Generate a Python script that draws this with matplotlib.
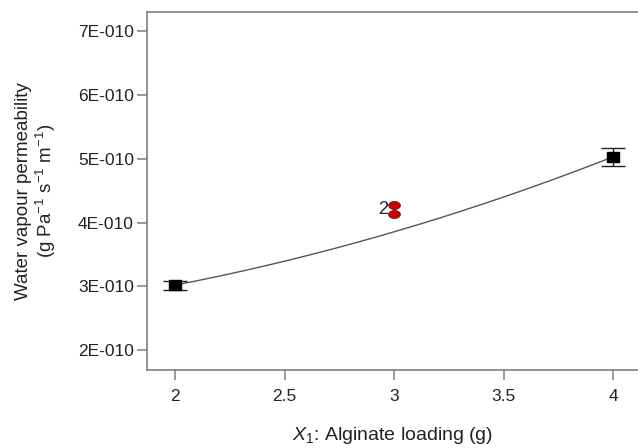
import numpy as np
import matplotlib
matplotlib.use("Agg")
import matplotlib.pyplot as plt
from matplotlib.ticker import FuncFormatter
from matplotlib.path import Path

plt.rcParams['font.family'] = ['Liberation Sans', 'DejaVu Sans']
plt.rcParams['mathtext.fontset'] = 'custom'
plt.rcParams['mathtext.rm'] = 'Liberation Sans'
plt.rcParams['mathtext.it'] = 'Liberation Sans:italic'

# design points (black squares with error bars)
x_design = [2, 4]
y_design = [3.02e-10, 5.03e-10]
y_err = [0.07e-10, 0.14e-10]

# centre point replicates (red)
x_center = [3, 3]
y_center = [4.27e-10, 4.13e-10]
center_label = "2"

# quadratic model curve coefficients (in units of 1e-10), y = c0 + c1*(x-2) + c2*(x-2)^2
model_c0, model_c1, model_c2 = 3.02, 0.665, 0.17

xticks = [2, 2.5, 3, 3.5, 4]
yticks = [2e-10, 3e-10, 4e-10, 5e-10, 6e-10, 7e-10]

fig = plt.figure(figsize=(6.38, 4.48), dpi=100)
ax = fig.add_axes([147/638, 1-370/448, (638-147)/638, (370-12)/448])

xs = np.linspace(2, 4, 200)
ys = (model_c0 + model_c1*(xs-2) + model_c2*(xs-2)**2) * 1e-10
ax.plot(xs, ys, color='#555555', lw=1.0, zorder=2)

# wide rectangle marker for squares
sq = Path([(-1, -0.8), (1, -0.8), (1, 0.8), (-1, 0.8), (-1, -0.8)],
          [Path.MOVETO, Path.LINETO, Path.LINETO, Path.LINETO, Path.CLOSEPOLY])
ax.errorbar(x_design, y_design, yerr=y_err, fmt='none',
            ecolor='#222222', elinewidth=1.0, capsize=8.6, capthick=1.0, zorder=3)
ax.plot(x_design, y_design, ls='none', marker=sq, ms=8.8, color='black', zorder=4)

# ellipse marker
t = np.linspace(0, 2*np.pi, 60)
ell = Path(np.column_stack([np.cos(t), 0.68*np.sin(t)]), closed=True)
ax.plot(x_center, y_center, ls='none', marker=ell, ms=8.5, markerfacecolor='#cc0000',
        markeredgecolor='#6a1a1a', markeredgewidth=0.6, zorder=4)
ax.text(2.975, np.mean(y_center), center_label, ha='right', va='center', fontsize=13, color='#222222')

ax.set_xlim(1.872, 4.114)
ax.set_ylim(1.69e-10, 7.30e-10)
ax.set_xticks(xticks)
ax.set_xticklabels(['2', '2.5', '3', '3.5', '4'])
ax.set_yticks(yticks)
ax.yaxis.set_major_formatter(FuncFormatter(lambda v, p: f"{round(v/1e-10):d}E-010"))

for s in ax.spines.values():
    s.set_color('#7f7f7f')
    s.set_linewidth(1.2)
ax.spines['right'].set_visible(False)
ax.tick_params(direction='out', length=7.5, width=1.1, color='#7f7f7f',
               labelsize=12.5, labelcolor='#222222')
ax.tick_params(axis='y', pad=2)
ax.tick_params(axis='x', pad=6)

ax.set_xlabel('$X_1$: Alginate loading (g)', fontsize=14, labelpad=15, color='#222222')
ax.set_ylabel('Water vapour permeability\n(g Pa$^{-1}$ s$^{-1}$ m$^{-1}$)', fontsize=13.5,
              labelpad=14, color='#222222', linespacing=1.15)

fig.savefig('out.png', dpi=100)
